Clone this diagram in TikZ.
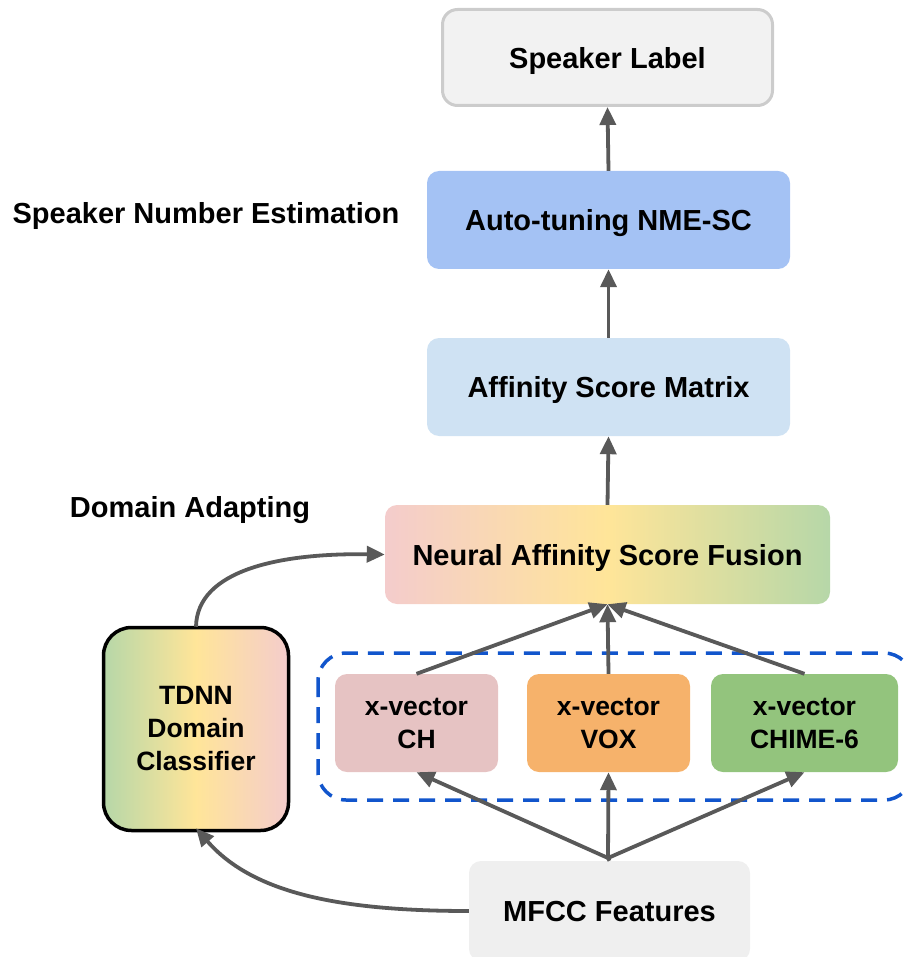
\documentclass[tikz,border=0pt]{standalone}
\usepackage{fontspec}
\setmainfont{Liberation Sans}
\usetikzlibrary{arrows.meta}
\definecolor{arrowgray}{HTML}{595959}
\definecolor{labelfill}{HTML}{F2F2F2}
\definecolor{labeldraw}{HTML}{CCCCCC}
\definecolor{nmefill}{HTML}{A4C2F4}
\definecolor{asmfill}{HTML}{CFE2F3}
\definecolor{gpink}{HTML}{F4CCCC}
\definecolor{gyellow}{HTML}{FFE599}
\definecolor{ggreen}{HTML}{B6D7A8}
\definecolor{chfill}{HTML}{E6C3C3}
\definecolor{voxfill}{HTML}{F6B26B}
\definecolor{chimefill}{HTML}{93C47D}
\definecolor{mfccfill}{HTML}{EFEFEF}
\definecolor{dashblue}{HTML}{1155CC}
\tikzset{
  bigtext/.style={font=\bfseries\fontsize{29}{33}\selectfont},
  smalltext/.style={font=\bfseries\fontsize{26.5}{33}\selectfont, align=center},
  box/.style={rectangle, rounded corners=12pt, inner sep=0pt, bigtext, text depth=0pt},
  xvec/.style={rectangle, rounded corners=12pt, inner sep=0pt, smalltext,
    minimum height=98pt},
  flow/.style={draw=arrowgray, line width=3.8pt,
    -{Triangle[length=18pt,width=16pt]}},
}
\begin{document}
\begin{tikzpicture}[x=1pt,y=-1pt]
\useasboundingbox (0,0) rectangle (904,957);

% main column
\node[box, fill=labelfill, draw=labeldraw, line width=3pt, rounded corners=15pt,
  minimum width=330pt, minimum height=96pt] (label) at (607.5,57.5) {Speaker Label};
\node[box, fill=nmefill, minimum width=363pt, minimum height=98pt] (nme) at (608.5,220) {Auto-tuning NME-SC};
\node[box, fill=asmfill, minimum width=363pt, minimum height=98pt] (asm) at (608.5,387) {Affinity Score Matrix};
\node[box, left color=gpink, right color=ggreen, middle color=gyellow,
  minimum width=445pt, minimum height=99pt] (nasf) at (607.5,554.5) {Neural Affinity Score Fusion};

% side labels
\node[bigtext, text depth=0pt] (sne) at (206,213) {Speaker Number Estimation};
\node[bigtext, text depth=0pt] (da) at (190,507) {Domain Adapting};

% domain classifier
\node[rectangle, rounded corners=28pt, draw=black, line width=3.5pt, smalltext,
  left color=ggreen, right color=gpink, middle color=gyellow,
  minimum width=185pt, minimum height=203pt, inner sep=0pt] (tdnn) at (196,729)
  {TDNN\\Domain\\Classifier};

% x-vector group
\draw[dashblue, line width=3.5pt, dash pattern=on 16pt off 10pt, rounded corners=28pt]
  (318,653) rectangle (912,800);
\node[xvec, fill=chfill, minimum width=163pt] (ch) at (416.5,723) {x-vector\\CH};
\node[xvec, fill=voxfill, minimum width=163pt] (vox) at (608.5,723) {x-vector\\VOX};
\node[xvec, fill=chimefill, minimum width=187pt] (chime) at (804.5,723) {x-vector\\CHIME-6};

% input features
\node[box, fill=mfccfill, minimum width=281pt, minimum height=100pt] (mfcc) at (609.5,911) {MFCC Features};
\coordinate (split) at (608,858);

% connectors
\draw[flow] (nme.north) -- (label.south);
\draw[flow] (asm.north) -- (nme.south);
\draw[flow] (nasf.north) -- (asm.south);
\draw[flow] (ch.north) -- (nasf.south);
\draw[flow] (vox.north) -- (nasf.south);
\draw[flow] (chime.north) -- (nasf.south);
\draw[flow] (split) -- (ch.south);
\draw[flow] (split) -- (vox.south);
\draw[flow] (split) -- (chime.south);
\draw[draw=arrowgray, line width=3.8pt] (split) -- (mfcc.north);
\draw[flow] (mfcc.west) .. controls (330,911) and (250,890) .. ([yshift=4pt]tdnn.south);
\draw[flow] ([yshift=-1pt]tdnn.north) .. controls (197,570) and (280,553) .. (nasf.west);
\end{tikzpicture}
\end{document}
